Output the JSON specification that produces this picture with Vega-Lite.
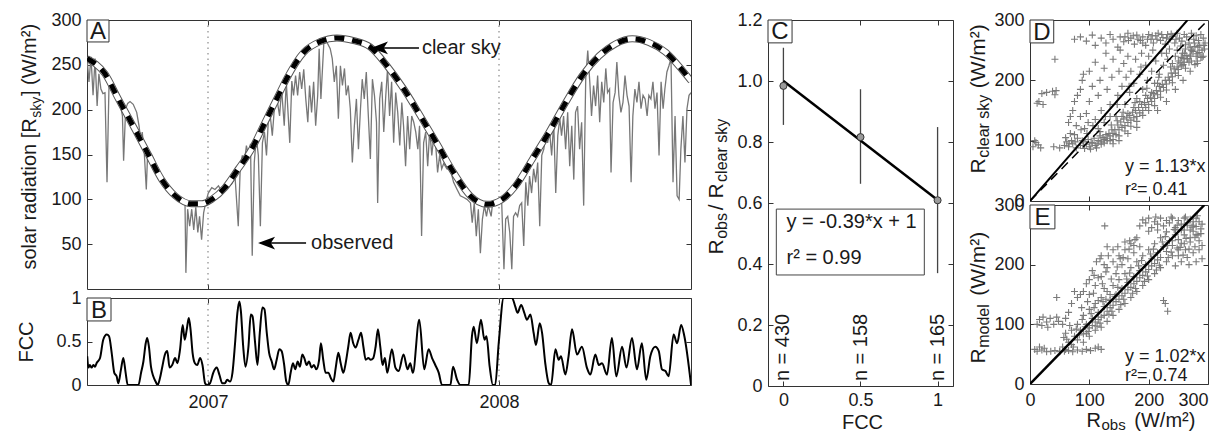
{
"$schema": "https://vega.github.io/schema/vega-lite/v6.json",
"autosize": {"type": "pad"},
"padding": {"left": 15, "top": 10, "right": 0, "bottom": 0},
"background": "white",
"config": {
  "font": "Liberation Sans",
  "view": {"stroke": "#333", "strokeWidth": 1},
  "axis": {"grid": false, "domain": false, "tickSize": -5, "tickColor": "#333", "tickWidth": 1, "labelFontSize": 18, "labelColor": "#1a1a1a", "labelFont": "Liberation Sans", "titleFont": "Liberation Sans", "titleFontSize": 21, "titleFontWeight": "normal", "titleColor": "#1a1a1a", "labelOverlap": false, "labelFlush": false, "labelBound": false},
  "text": {"font": "Liberation Sans", "color": "#1a1a1a"}
},
"datasets": {
"observed": [
{"t":2006.585,"v":255},{"t":2006.591,"v":231},{"t":2006.598,"v":259},{"t":2006.605,"v":216},{"t":2006.612,"v":257},{"t":2006.619,"v":204},{"t":2006.625,"v":240},{"t":2006.632,"v":223},{"t":2006.639,"v":218},{"t":2006.646,"v":219},{"t":2006.653,"v":119},{"t":2006.660,"v":230},{"t":2006.669,"v":223},{"t":2006.680,"v":217},{"t":2006.692,"v":210},{"t":2006.699,"v":205},{"t":2006.706,"v":193},{"t":2006.710,"v":143},{"t":2006.717,"v":201},{"t":2006.724,"v":207},{"t":2006.732,"v":209},{"t":2006.743,"v":206},{"t":2006.755,"v":197},{"t":2006.763,"v":182},{"t":2006.770,"v":163},{"t":2006.774,"v":175},{"t":2006.781,"v":152},{"t":2006.788,"v":111},{"t":2006.793,"v":156},{"t":2006.800,"v":145},{"t":2006.806,"v":140},{"t":2006.824,"v":130},{"t":2006.841,"v":120},{"t":2006.864,"v":110},{"t":2006.887,"v":102},{"t":2006.910,"v":97},{"t":2006.921,"v":96},{"t":2006.924,"v":18},{"t":2006.930,"v":89},{"t":2006.937,"v":70},{"t":2006.944,"v":89},{"t":2006.951,"v":66},{"t":2006.958,"v":91},{"t":2006.965,"v":63},{"t":2006.971,"v":81},{"t":2006.978,"v":55},{"t":2006.985,"v":85},{"t":2006.992,"v":96},{"t":2007.001,"v":107},{"t":2007.013,"v":113},{"t":2007.024,"v":111},{"t":2007.036,"v":115},{"t":2007.047,"v":109},{"t":2007.058,"v":112},{"t":2007.070,"v":115},{"t":2007.081,"v":117},{"t":2007.093,"v":125},{"t":2007.104,"v":70},{"t":2007.111,"v":137},{"t":2007.118,"v":149},{"t":2007.125,"v":141},{"t":2007.132,"v":160},{"t":2007.139,"v":149},{"t":2007.146,"v":162},{"t":2007.152,"v":37},{"t":2007.159,"v":141},{"t":2007.166,"v":169},{"t":2007.173,"v":149},{"t":2007.180,"v":70},{"t":2007.187,"v":163},{"t":2007.194,"v":175},{"t":2007.201,"v":149},{"t":2007.207,"v":186},{"t":2007.214,"v":193},{"t":2007.221,"v":171},{"t":2007.228,"v":201},{"t":2007.237,"v":212},{"t":2007.246,"v":193},{"t":2007.253,"v":223},{"t":2007.262,"v":182},{"t":2007.269,"v":231},
{"t":2007.281,"v":163},{"t":2007.288,"v":232},{"t":2007.294,"v":216},{"t":2007.301,"v":238},{"t":2007.308,"v":216},{"t":2007.315,"v":242},{"t":2007.322,"v":223},{"t":2007.329,"v":245},{"t":2007.336,"v":212},{"t":2007.343,"v":186},{"t":2007.349,"v":227},{"t":2007.356,"v":197},{"t":2007.363,"v":231},{"t":2007.370,"v":182},{"t":2007.377,"v":216},{"t":2007.382,"v":268},{"t":2007.388,"v":212},{"t":2007.398,"v":274},{"t":2007.409,"v":275},{"t":2007.420,"v":268},{"t":2007.427,"v":257},{"t":2007.434,"v":231},{"t":2007.441,"v":249},{"t":2007.448,"v":190},{"t":2007.455,"v":249},{"t":2007.462,"v":227},{"t":2007.469,"v":246},{"t":2007.475,"v":216},{"t":2007.482,"v":227},{"t":2007.489,"v":201},{"t":2007.496,"v":141},{"t":2007.503,"v":182},{"t":2007.510,"v":212},{"t":2007.517,"v":156},{"t":2007.524,"v":201},{"t":2007.530,"v":234},{"t":2007.537,"v":212},{"t":2007.544,"v":242},{"t":2007.551,"v":193},{"t":2007.558,"v":145},{"t":2007.565,"v":234},{"t":2007.572,"v":216},{"t":2007.579,"v":186},{"t":2007.583,"v":96},{"t":2007.590,"v":212},{"t":2007.597,"v":231},{"t":2007.604,"v":175},{"t":2007.611,"v":216},{"t":2007.617,"v":246},{"t":2007.624,"v":193},{"t":2007.631,"v":231},{"t":2007.638,"v":163},{"t":2007.645,"v":219},{"t":2007.652,"v":197},{"t":2007.659,"v":160},{"t":2007.666,"v":208},{"t":2007.672,"v":182},{"t":2007.679,"v":137},{"t":2007.686,"v":193},{"t":2007.693,"v":156},{"t":2007.700,"v":193},{"t":2007.707,"v":186},{"t":2007.714,"v":175},{"t":2007.721,"v":156},{"t":2007.727,"v":182},{"t":2007.734,"v":59},{"t":2007.741,"v":163},{"t":2007.748,"v":175},{"t":2007.755,"v":137},{"t":2007.762,"v":178},{"t":2007.769,"v":149},{"t":2007.776,"v":171},{"t":2007.782,"v":163},{"t":2007.789,"v":130},{"t":2007.796,"v":149},{"t":2007.803,"v":134},{"t":2007.810,"v":140},{"t":2007.821,"v":134},{"t":2007.833,"v":133},{"t":2007.844,"v":119},{"t":2007.856,"v":111},{"t":2007.867,"v":104},{"t":2007.879,"v":102},{"t":2007.890,"v":100},{"t":2007.902,"v":96},{"t":2007.908,"v":74},{"t":2007.915,"v":96},{"t":2007.922,"v":59},{"t":2007.929,"v":89},{"t":2007.936,"v":40},{"t":2007.943,"v":78},{"t":2007.950,"v":93},{"t":2007.957,"v":81},{"t":2007.963,"v":93},{"t":2007.973,"v":81},
{"t":2007.977,"v":93},{"t":2007.989,"v":96},{"t":2008.000,"v":97},{"t":2008.009,"v":99},{"t":2008.017,"v":22},{"t":2008.023,"v":78},{"t":2008.030,"v":81},{"t":2008.037,"v":63},{"t":2008.044,"v":22},{"t":2008.050,"v":81},{"t":2008.057,"v":85},{"t":2008.064,"v":81},{"t":2008.071,"v":93},{"t":2008.078,"v":96},{"t":2008.085,"v":48},{"t":2008.092,"v":119},{"t":2008.099,"v":93},{"t":2008.105,"v":126},{"t":2008.112,"v":107},{"t":2008.119,"v":134},{"t":2008.126,"v":119},{"t":2008.133,"v":141},{"t":2008.140,"v":70},{"t":2008.147,"v":149},{"t":2008.154,"v":156},{"t":2008.160,"v":171},{"t":2008.167,"v":163},{"t":2008.174,"v":175},{"t":2008.181,"v":149},{"t":2008.188,"v":186},{"t":2008.195,"v":107},{"t":2008.202,"v":171},{"t":2008.209,"v":190},{"t":2008.215,"v":171},{"t":2008.222,"v":193},{"t":2008.229,"v":156},{"t":2008.236,"v":197},{"t":2008.243,"v":137},{"t":2008.250,"v":182},{"t":2008.257,"v":122},{"t":2008.263,"v":197},{"t":2008.270,"v":204},{"t":2008.277,"v":156},{"t":2008.284,"v":186},{"t":2008.291,"v":93},{"t":2008.298,"v":234},{"t":2008.305,"v":266},{"t":2008.312,"v":231},{"t":2008.318,"v":193},{"t":2008.325,"v":227},{"t":2008.332,"v":204},{"t":2008.339,"v":238},{"t":2008.346,"v":186},{"t":2008.353,"v":231},{"t":2008.360,"v":208},{"t":2008.367,"v":246},{"t":2008.373,"v":219},{"t":2008.380,"v":223},{"t":2008.385,"v":130},{"t":2008.392,"v":208},{"t":2008.399,"v":219},{"t":2008.405,"v":253},{"t":2008.412,"v":216},{"t":2008.419,"v":197},{"t":2008.426,"v":208},{"t":2008.433,"v":238},{"t":2008.440,"v":216},{"t":2008.447,"v":204},{"t":2008.454,"v":119},{"t":2008.460,"v":193},{"t":2008.467,"v":223},{"t":2008.474,"v":208},{"t":2008.481,"v":231},{"t":2008.488,"v":201},{"t":2008.495,"v":216},{"t":2008.502,"v":212},{"t":2008.509,"v":193},{"t":2008.515,"v":216},{"t":2008.522,"v":212},{"t":2008.529,"v":231},{"t":2008.536,"v":201},{"t":2008.543,"v":219},{"t":2008.550,"v":149},{"t":2008.557,"v":231},{"t":2008.564,"v":201},{"t":2008.570,"v":223},{"t":2008.577,"v":242},{"t":2008.584,"v":249},{"t":2008.591,"v":257},{"t":2008.598,"v":119},{"t":2008.605,"v":193},{"t":2008.612,"v":104},{"t":2008.619,"v":100},{"t":2008.625,"v":156},{"t":2008.632,"v":193},{"t":2008.639,"v":141},{"t":2008.646,"v":201},{"t":2008.653,"v":216},{"t":2008.660,"v":219}
],
"clearsky": [
{"t":2006.584,"v":257},{"t":2006.646,"v":240},{"t":2006.692,"v":212},{"t":2006.749,"v":178},{"t":2006.795,"v":150},{"t":2006.841,"v":122},{"t":2006.887,"v":104},{"t":2006.944,"v":95},{"t":2006.978,"v":95},{"t":2007.013,"v":100},{"t":2007.058,"v":113},{"t":2007.104,"v":134},{"t":2007.150,"v":156},{"t":2007.196,"v":186},{"t":2007.242,"v":216},{"t":2007.271,"v":235},{"t":2007.329,"v":264},{"t":2007.386,"v":276},{"t":2007.443,"v":280},{"t":2007.501,"v":277},{"t":2007.557,"v":270},{"t":2007.615,"v":249},{"t":2007.673,"v":223},{"t":2007.730,"v":193},{"t":2007.787,"v":162},{"t":2007.844,"v":130},{"t":2007.901,"v":104},{"t":2007.959,"v":94.4},{"t":2008.011,"v":100},{"t":2008.057,"v":115},{"t":2008.115,"v":145},{"t":2008.172,"v":175},{"t":2008.229,"v":208},{"t":2008.286,"v":238},{"t":2008.344,"v":260},{"t":2008.401,"v":273.5},{"t":2008.458,"v":279},{"t":2008.515,"v":275},{"t":2008.573,"v":264},{"t":2008.630,"v":244},{"t":2008.660,"v":232}
],
"fcc": [
{"t":2006.585,"f":0.33},{"t":2006.589,"f":0.20},{"t":2006.594,"f":0.23},{"t":2006.600,"f":0.20},{"t":2006.606,"f":0.23},{"t":2006.612,"f":0.21},{"t":2006.617,"f":0.25},{"t":2006.629,"f":0.31},{"t":2006.640,"f":0.52},{"t":2006.652,"f":0.58},{"t":2006.660,"f":0.56},{"t":2006.669,"f":0.37},{"t":2006.678,"f":0.14},{"t":2006.686,"f":0.10},{"t":2006.692,"f":0.02},{"t":2006.701,"f":0.18},{"t":2006.709,"f":0.31},{"t":2006.717,"f":0.14},{"t":2006.724,"f":0},{"t":2006.761,"f":0},{"t":2006.770,"f":0.14},{"t":2006.778,"f":0.27},{"t":2006.786,"f":0.48},{"t":2006.791,"f":0.54},{"t":2006.797,"f":0.44},{"t":2006.804,"f":0.21},{"t":2006.812,"f":0.10},{"t":2006.820,"f":0.04},{"t":2006.827,"f":0},{"t":2006.835,"f":0.08},{"t":2006.843,"f":0.21},{"t":2006.852,"f":0.35},{"t":2006.860,"f":0.39},{"t":2006.868,"f":0.20},{"t":2006.877,"f":0.23},{"t":2006.887,"f":0.31},{"t":2006.895,"f":0.25},{"t":2006.904,"f":0.41},{"t":2006.913,"f":0.69},{"t":2006.920,"f":0.52},{"t":2006.927,"f":0.64},{"t":2006.934,"f":0.77},{"t":2006.940,"f":0.64},{"t":2006.947,"f":0.37},{"t":2006.955,"f":0.25},{"t":2006.963,"f":0.23},{"t":2006.973,"f":0.31},{"t":2006.981,"f":0.23},{"t":2006.990,"f":0.02},{"t":2006.997,"f":0},{"t":2007.007,"f":0.02},{"t":2007.018,"f":0.14},{"t":2007.030,"f":0.20},{"t":2007.039,"f":0.12},{"t":2007.049,"f":0.02},{"t":2007.058,"f":0.02},{"t":2007.066,"f":0.06},{"t":2007.076,"f":0.04},{"t":2007.084,"f":0.14},{"t":2007.093,"f":0.48},{"t":2007.101,"f":0.83},{"t":2007.108,"f":0.96},{"t":2007.113,"f":0.85},{"t":2007.121,"f":0.44},{"t":2007.129,"f":0.21},{"t":2007.139,"f":0.44},{"t":2007.147,"f":0.81},{"t":2007.153,"f":0.79},{"t":2007.162,"f":0.48},{"t":2007.170,"f":0.23},{"t":2007.178,"f":0.60},{"t":2007.187,"f":0.89},{"t":2007.194,"f":0.87},{"t":2007.202,"f":0.60},{"t":2007.210,"f":0.37},{"t":2007.219,"f":0.27},{"t":2007.227,"f":0.18},{"t":2007.236,"f":0.29},{"t":2007.245,"f":0.41},{"t":2007.253,"f":0.39},{"t":2007.261,"f":0.25},{"t":2007.269,"f":0.04},{"t":2007.276,"f":0},{"t":2007.284,"f":0.14},{"t":2007.292,"f":0.25},{"t":2007.300,"f":0.18},{"t":2007.308,"f":0.27},{"t":2007.316,"f":0.21},{"t":2007.324,"f":0.35},{"t":2007.331,"f":0.31},{"t":2007.339,"f":0.23},{"t":2007.347,"f":0.27},{"t":2007.356,"f":0.20},{"t":2007.364,"f":0.23},{"t":2007.372,"f":0.18},{"t":2007.382,"f":0.29},{"t":2007.388,"f":0.48},{"t":2007.396,"f":0.29},{"t":2007.404,"f":0.14},{"t":2007.414,"f":0.14},{"t":2007.422,"f":0.08},{"t":2007.431,"f":0.04},{"t":2007.439,"f":0.20},{"t":2007.448,"f":0.37},{"t":2007.456,"f":0.25},{"t":2007.465,"f":0.14},{"t":2007.473,"f":0.25},{"t":2007.482,"f":0.44},{"t":2007.490,"f":0.60},{"t":2007.499,"f":0.48},{"t":2007.507,"f":0.43},{"t":2007.517,"f":0.52},{"t":2007.526,"f":0.60},{"t":2007.534,"f":0.44},{"t":2007.542,"f":0.29},{"t":2007.551,"f":0.31},{"t":2007.559,"f":0.29},{"t":2007.568,"f":0.31},{"t":2007.576,"f":0.44},{"t":2007.584,"f":0.64},{"t":2007.592,"f":0.44},{"t":2007.600,"f":0.23},{"t":2007.608,"f":0.31},{"t":2007.616,"f":0.14},{"t":2007.632,"f":0.41},{"t":2007.644,"f":0.20},{"t":2007.655,"f":0.16},{"t":2007.672,"f":0.35},{"t":2007.686,"f":0.18},{"t":2007.695,"f":0.25},{"t":2007.704,"f":0.14},{"t":2007.726,"f":0.75},{"t":2007.743,"f":0.18},{"t":2007.758,"f":0.41},{"t":2007.770,"f":0.31},{"t":2007.781,"f":0.23},{"t":2007.793,"f":0.14},{"t":2007.804,"f":0},{"t":2007.833,"f":0},{"t":2007.842,"f":0.21},{"t":2007.856,"f":0.06},{"t":2007.867,"f":0},{"t":2007.896,"f":0},{"t":2007.907,"f":0.56},{"t":2007.913,"f":0.67},{"t":2007.924,"f":0.48},{"t":2007.938,"f":0.75},{"t":2007.950,"f":0.52},{"t":2007.957,"f":0.56},{"t":2007.968,"f":0.21},{"t":2007.979,"f":0},{"t":2007.987,"f":0},{"t":2007.999,"f":0.48},{"t":2008.016,"f":1.0},{"t":2008.045,"f":1.0},{"t":2008.056,"f":0.90},{"t":2008.064,"f":0.83},{"t":2008.076,"f":0.92},{"t":2008.087,"f":0.83},{"t":2008.096,"f":0.75},{"t":2008.108,"f":0.81},{"t":2008.119,"f":0.60},{"t":2008.127,"f":0.46},{"t":2008.140,"f":0.71},{"t":2008.148,"f":0.60},{"t":2008.159,"f":0.25},{"t":2008.171,"f":0.02},{"t":2008.179,"f":0},{"t":2008.194,"f":0.41},{"t":2008.205,"f":0.29},{"t":2008.213,"f":0.33},{"t":2008.228,"f":0.12},{"t":2008.239,"f":0.33},{"t":2008.251,"f":0.64},{"t":2008.268,"f":0.35},{"t":2008.285,"f":0.44},{"t":2008.302,"f":0.20},{"t":2008.314,"f":0.12},{"t":2008.331,"f":0.35},{"t":2008.343,"f":0.23},{"t":2008.354,"f":0.25},{"t":2008.371,"f":0.12},{"t":2008.388,"f":0.54},{"t":2008.403,"f":0.10},{"t":2008.423,"f":0.44},{"t":2008.438,"f":0.20},{"t":2008.457,"f":0.54},{"t":2008.474,"f":0.18},{"t":2008.491,"f":0.48},{"t":2008.506,"f":0.06},{"t":2008.520,"f":0.33},{"t":2008.537,"f":0.44},{"t":2008.549,"f":0.39},{"t":2008.560,"f":0.18},{"t":2008.572,"f":0.16},{"t":2008.583,"f":0.10},{"t":2008.600,"f":0.58},{"t":2008.612,"f":0.48},{"t":2008.626,"f":0.69},{"t":2008.637,"f":0.56},{"t":2008.660,"f":0}
],
"ratio": [
{"fcc":0,"ratio":0.984,"lo":0.856,"hi":1.109,"nlab":"n = 430"},
{"fcc":0.5,"ratio":0.816,"lo":0.663,"hi":0.973,"nlab":"n = 158"},
{"fcc":1,"ratio":0.609,"lo":0.37,"hi":0.849,"nlab":"n = 165"}
],
"scatterD": [
{"obs":75,"clear":268},{"obs":85,"clear":272},{"obs":95,"clear":265},{"obs":105,"clear":275},{"obs":110,"clear":258},{"obs":120,"clear":270},{"obs":128,"clear":262},{"obs":135,"clear":276},{"obs":140,"clear":268},{"obs":148,"clear":255},{"obs":152,"clear":272},{"obs":158,"clear":264},{"obs":165,"clear":278},{"obs":170,"clear":270},{"obs":176,"clear":260},{"obs":180,"clear":275},{"obs":186,"clear":266},{"obs":190,"clear":272},{"obs":195,"clear":258},{"obs":200,"clear":276},{"obs":204,"clear":268},{"obs":208,"clear":262},{"obs":212,"clear":274},{"obs":216,"clear":278},{"obs":220,"clear":266},{"obs":224,"clear":271},{"obs":228,"clear":260},{"obs":232,"clear":276},{"obs":236,"clear":268},{"obs":240,"clear":273},{"obs":244,"clear":262},{"obs":248,"clear":278},{"obs":252,"clear":270},{"obs":256,"clear":265},{"obs":260,"clear":276},{"obs":264,"clear":272},{"obs":268,"clear":262},{"obs":272,"clear":278},{"obs":276,"clear":268},{"obs":280,"clear":274},{"obs":284,"clear":266},{"obs":288,"clear":276},{"obs":292,"clear":270},{"obs":295,"clear":262},{"obs":286,"clear":258},{"obs":278,"clear":256},{"obs":270,"clear":255},{"obs":262,"clear":259},{"obs":254,"clear":257},{"obs":246,"clear":268},{"obs":238,"clear":277},{"obs":230,"clear":270},{"obs":222,"clear":276},{"obs":214,"clear":268},{"obs":206,"clear":274},{"obs":198,"clear":268},{"obs":190,"clear":262},{"obs":182,"clear":268},{"obs":174,"clear":274},{"obs":166,"clear":266},{"obs":160,"clear":272},
{"obs":290,"clear":250},{"obs":285,"clear":246},{"obs":280,"clear":240},{"obs":275,"clear":248},{"obs":270,"clear":242},{"obs":265,"clear":236},{"obs":260,"clear":245},{"obs":255,"clear":238},{"obs":250,"clear":232},{"obs":245,"clear":240},{"obs":240,"clear":228},{"obs":282,"clear":232},{"obs":292,"clear":240},{"obs":288,"clear":238},{"obs":272,"clear":250},{"obs":262,"clear":252},{"obs":278,"clear":226},{"obs":268,"clear":230},{"obs":258,"clear":226},{"obs":248,"clear":250},{"obs":294,"clear":252},{"obs":230,"clear":245},{"obs":235,"clear":252},
{"obs":120,"clear":98},{"obs":125,"clear":102},{"obs":130,"clear":100},{"obs":135,"clear":108},{"obs":140,"clear":112},{"obs":145,"clear":110},{"obs":150,"clear":118},{"obs":155,"clear":122},{"obs":160,"clear":125},{"obs":165,"clear":130},{"obs":170,"clear":134},{"obs":175,"clear":138},{"obs":180,"clear":140},{"obs":185,"clear":146},{"obs":190,"clear":150},{"obs":195,"clear":155},{"obs":200,"clear":160},{"obs":205,"clear":165},{"obs":210,"clear":170},{"obs":215,"clear":176},{"obs":220,"clear":182},{"obs":225,"clear":188},{"obs":230,"clear":194},{"obs":235,"clear":200},{"obs":240,"clear":206},{"obs":245,"clear":212},{"obs":250,"clear":218},{"obs":255,"clear":224},{"obs":260,"clear":230},{"obs":265,"clear":236},{"obs":270,"clear":240},{"obs":128,"clear":110},{"obs":138,"clear":118},{"obs":148,"clear":126},{"obs":158,"clear":136},{"obs":168,"clear":142},{"obs":178,"clear":150},{"obs":188,"clear":160},{"obs":198,"clear":170},{"obs":208,"clear":178},{"obs":218,"clear":190},{"obs":228,"clear":200},{"obs":238,"clear":212},{"obs":248,"clear":222},{"obs":258,"clear":236},{"obs":200,"clear":150},{"obs":210,"clear":158},{"obs":190,"clear":142},{"obs":180,"clear":132},{"obs":170,"clear":124},{"obs":160,"clear":116},{"obs":150,"clear":108},{"obs":140,"clear":102},{"obs":220,"clear":172},{"obs":230,"clear":184},{"obs":240,"clear":196},{"obs":250,"clear":208},{"obs":262,"clear":220},{"obs":272,"clear":232},{"obs":282,"clear":244},{"obs":205,"clear":180},{"obs":215,"clear":195},{"obs":195,"clear":175},{"obs":185,"clear":165},{"obs":175,"clear":155},{"obs":165,"clear":145},{"obs":155,"clear":140},{"obs":215,"clear":150},{"obs":230,"clear":165},{"obs":245,"clear":185},{"obs":258,"clear":200},{"obs":270,"clear":215},{"obs":282,"clear":228},{"obs":290,"clear":238},{"obs":180,"clear":122},{"obs":165,"clear":112},{"obs":150,"clear":100},{"obs":140,"clear":95},
{"obs":103,"clear":97},{"obs":113,"clear":95},{"obs":123,"clear":105},{"obs":133,"clear":112},{"obs":143,"clear":118},{"obs":153,"clear":131},{"obs":163,"clear":138},{"obs":173,"clear":147},{"obs":183,"clear":155},{"obs":193,"clear":163},{"obs":203,"clear":172},{"obs":213,"clear":183},{"obs":223,"clear":193},{"obs":233,"clear":205},{"obs":243,"clear":219},{"obs":253,"clear":229},{"obs":263,"clear":241},{"obs":273,"clear":249},{"obs":283,"clear":255},{"obs":293,"clear":258},{"obs":118,"clear":115},{"obs":137,"clear":126},{"obs":147,"clear":133},{"obs":157,"clear":147},{"obs":177,"clear":163},{"obs":197,"clear":187},{"obs":217,"clear":205},{"obs":237,"clear":222},{"obs":257,"clear":245},{"obs":277,"clear":262},{"obs":127,"clear":140},{"obs":147,"clear":160},{"obs":167,"clear":190},{"obs":187,"clear":222},{"obs":207,"clear":250},{"obs":96,"clear":112},{"obs":106,"clear":125},{"obs":86,"clear":118},{"obs":76,"clear":98},{"obs":66,"clear":95},
{"obs":40,"clear":90},{"obs":50,"clear":88},{"obs":58,"clear":92},{"obs":65,"clear":90},{"obs":72,"clear":95},{"obs":78,"clear":88},{"obs":85,"clear":92},{"obs":90,"clear":98},{"obs":95,"clear":94},{"obs":100,"clear":90},{"obs":105,"clear":96},{"obs":110,"clear":92},{"obs":115,"clear":100},{"obs":120,"clear":94},{"obs":125,"clear":96},{"obs":130,"clear":104},{"obs":98,"clear":102},{"obs":88,"clear":100},{"obs":80,"clear":104},{"obs":70,"clear":100},{"obs":62,"clear":98},{"obs":108,"clear":104},{"obs":118,"clear":108},{"obs":112,"clear":88},{"obs":102,"clear":86},{"obs":92,"clear":87},{"obs":135,"clear":100},{"obs":75,"clear":110},{"obs":68,"clear":112},{"obs":60,"clear":105},
{"obs":5,"clear":90},{"obs":10,"clear":97},{"obs":14,"clear":93},{"obs":8,"clear":100},{"obs":18,"clear":88},{"obs":15,"clear":165},{"obs":20,"clear":178},{"obs":28,"clear":180},{"obs":38,"clear":182},{"obs":42,"clear":176},{"obs":44,"clear":183},{"obs":12,"clear":162},{"obs":22,"clear":160},{"obs":42,"clear":235},
{"obs":65,"clear":130},{"obs":68,"clear":140},{"obs":72,"clear":150},{"obs":75,"clear":165},{"obs":80,"clear":175},{"obs":85,"clear":185},{"obs":88,"clear":200},{"obs":90,"clear":210},{"obs":95,"clear":145},{"obs":100,"clear":165},{"obs":100,"clear":215},{"obs":105,"clear":190},{"obs":110,"clear":135},{"obs":110,"clear":230},{"obs":115,"clear":175},{"obs":118,"clear":200},{"obs":120,"clear":150},{"obs":125,"clear":220},{"obs":128,"clear":245},{"obs":130,"clear":185},{"obs":135,"clear":160},{"obs":138,"clear":205},{"obs":140,"clear":235},{"obs":145,"clear":140},{"obs":148,"clear":175},{"obs":150,"clear":215},{"obs":152,"clear":250},{"obs":155,"clear":190},{"obs":158,"clear":228},{"obs":160,"clear":160},{"obs":162,"clear":205},{"obs":165,"clear":240},{"obs":168,"clear":180},{"obs":170,"clear":215},{"obs":175,"clear":195},{"obs":178,"clear":235},{"obs":180,"clear":170},{"obs":185,"clear":210},{"obs":188,"clear":245},{"obs":190,"clear":185},{"obs":195,"clear":225},{"obs":198,"clear":200},{"obs":200,"clear":240},{"obs":205,"clear":215},{"obs":210,"clear":195},{"obs":212,"clear":232},{"obs":218,"clear":210},{"obs":222,"clear":245},{"obs":225,"clear":225},{"obs":232,"clear":235},{"obs":115,"clear":120},{"obs":125,"clear":130},{"obs":135,"clear":140},{"obs":78,"clear":125},{"obs":85,"clear":140},{"obs":92,"clear":120},{"obs":98,"clear":130}
],
"scatterE": [
{"obs":50,"model":55},{"obs":55,"model":62},{"obs":60,"model":58},{"obs":65,"model":70},{"obs":70,"model":66},{"obs":75,"model":80},{"obs":80,"model":74},{"obs":85,"model":90},{"obs":90,"model":84},{"obs":95,"model":100},{"obs":100,"model":94},{"obs":105,"model":110},{"obs":110,"model":104},{"obs":115,"model":120},{"obs":120,"model":112},{"obs":125,"model":130},{"obs":130,"model":122},{"obs":135,"model":140},{"obs":140,"model":132},{"obs":145,"model":150},{"obs":150,"model":142},{"obs":155,"model":160},{"obs":160,"model":152},{"obs":165,"model":170},{"obs":170,"model":162},{"obs":175,"model":180},{"obs":180,"model":172},{"obs":185,"model":190},{"obs":190,"model":182},{"obs":195,"model":200},{"obs":200,"model":192},{"obs":205,"model":210},{"obs":210,"model":202},{"obs":215,"model":220},{"obs":220,"model":212},{"obs":225,"model":230},{"obs":230,"model":222},{"obs":235,"model":240},{"obs":240,"model":232},{"obs":245,"model":250},{"obs":250,"model":242},{"obs":255,"model":258},{"obs":260,"model":250},{"obs":265,"model":266},{"obs":270,"model":258},{"obs":275,"model":272},{"obs":280,"model":264},
{"obs":80,"model":100},{"obs":90,"model":115},{"obs":100,"model":125},{"obs":110,"model":135},{"obs":120,"model":145},{"obs":130,"model":155},{"obs":140,"model":165},{"obs":150,"model":175},{"obs":160,"model":185},{"obs":170,"model":195},{"obs":180,"model":205},{"obs":190,"model":215},{"obs":200,"model":225},{"obs":210,"model":235},{"obs":220,"model":245},
{"obs":90,"model":70},{"obs":100,"model":80},{"obs":110,"model":90},{"obs":120,"model":95},{"obs":130,"model":105},{"obs":140,"model":115},{"obs":150,"model":125},{"obs":160,"model":135},{"obs":170,"model":145},{"obs":180,"model":155},{"obs":190,"model":165},{"obs":200,"model":175},{"obs":210,"model":185},{"obs":220,"model":195},{"obs":230,"model":205},{"obs":240,"model":215},{"obs":250,"model":225},{"obs":260,"model":235},{"obs":270,"model":245},{"obs":280,"model":250},
{"obs":95,"model":85},{"obs":105,"model":98},{"obs":115,"model":108},{"obs":125,"model":115},{"obs":135,"model":128},{"obs":145,"model":138},{"obs":155,"model":148},{"obs":165,"model":158},{"obs":175,"model":168},{"obs":185,"model":178},{"obs":195,"model":188},{"obs":205,"model":198},{"obs":215,"model":208},
{"obs":100,"model":150},{"obs":110,"model":165},{"obs":120,"model":180},{"obs":130,"model":195},{"obs":140,"model":205},{"obs":150,"model":215},{"obs":160,"model":225},{"obs":170,"model":235},{"obs":180,"model":245},{"obs":115,"model":140},{"obs":125,"model":160},{"obs":135,"model":150},{"obs":145,"model":185},{"obs":155,"model":200},{"obs":165,"model":210},{"obs":175,"model":220},{"obs":185,"model":230},
{"obs":185,"model":265},{"obs":190,"model":275},{"obs":195,"model":270},{"obs":200,"model":278},{"obs":205,"model":262},{"obs":210,"model":272},{"obs":215,"model":268},{"obs":220,"model":278},{"obs":225,"model":265},{"obs":230,"model":274},{"obs":235,"model":270},{"obs":240,"model":278},{"obs":245,"model":262},{"obs":250,"model":274},{"obs":255,"model":268},{"obs":260,"model":278},{"obs":265,"model":270},{"obs":270,"model":276},{"obs":275,"model":266},{"obs":280,"model":278},{"obs":285,"model":272},{"obs":290,"model":268},{"obs":200,"model":256},{"obs":215,"model":258},{"obs":230,"model":255},{"obs":245,"model":258},{"obs":260,"model":258},{"obs":275,"model":256},{"obs":288,"model":260},{"obs":212,"model":280},{"obs":238,"model":280},{"obs":262,"model":280},{"obs":282,"model":282},
{"obs":232,"model":232},{"obs":240,"model":240},{"obs":248,"model":228},{"obs":255,"model":236},{"obs":262,"model":225},{"obs":270,"model":238},{"obs":278,"model":230},{"obs":285,"model":240},{"obs":290,"model":232},{"obs":275,"model":220},{"obs":265,"model":212},{"obs":255,"model":205},{"obs":245,"model":198},{"obs":280,"model":205},{"obs":290,"model":210},{"obs":285,"model":225},{"obs":250,"model":215},{"obs":268,"model":200},
{"obs":105,"model":190},{"obs":112,"model":205},{"obs":118,"model":210},{"obs":125,"model":200},{"obs":132,"model":215},{"obs":140,"model":225},{"obs":148,"model":230},{"obs":152,"model":210},{"obs":160,"model":238},{"obs":168,"model":240},{"obs":175,"model":232},{"obs":120,"model":215},{"obs":130,"model":230},{"obs":115,"model":178},{"obs":108,"model":182},{"obs":128,"model":188},{"obs":100,"model":175},{"obs":95,"model":168},{"obs":90,"model":155},{"obs":85,"model":150},{"obs":80,"model":145},{"obs":75,"model":155},{"obs":70,"model":135},{"obs":65,"model":120},{"obs":60,"model":110},{"obs":55,"model":100},
{"obs":62,"model":75},{"obs":73,"model":62},{"obs":83,"model":82},{"obs":93,"model":96},{"obs":103,"model":118},{"obs":113,"model":97},{"obs":123,"model":138},{"obs":133,"model":117},{"obs":143,"model":147},{"obs":153,"model":133},{"obs":163,"model":176},{"obs":173,"model":152},{"obs":183,"model":198},{"obs":193,"model":172},{"obs":203,"model":218},{"obs":213,"model":191},{"obs":223,"model":238},{"obs":233,"model":212},{"obs":243,"model":259},{"obs":253,"model":229},{"obs":263,"model":244},{"obs":273,"model":263},{"obs":283,"model":250},{"obs":78,"model":92},{"obs":88,"model":108},{"obs":98,"model":88},{"obs":108,"model":128},{"obs":118,"model":102},{"obs":128,"model":142},{"obs":138,"model":122},{"obs":148,"model":162},{"obs":158,"model":142},{"obs":168,"model":186},{"obs":178,"model":160},{"obs":188,"model":207},{"obs":198,"model":181},{"obs":208,"model":226},{"obs":218,"model":199},{"obs":228,"model":247},{"obs":238,"model":221},{"obs":248,"model":266},{"obs":258,"model":216},{"obs":268,"model":226},{"obs":278,"model":246},{"obs":288,"model":252},{"obs":137,"model":176},{"obs":147,"model":196},{"obs":157,"model":212},{"obs":167,"model":226},{"obs":177,"model":242},{"obs":122,"model":168},{"obs":107,"model":152},{"obs":97,"model":138},{"obs":87,"model":128},{"obs":67,"model":98},{"obs":57,"model":78},
{"obs":8,"model":58},{"obs":12,"model":55},{"obs":16,"model":62},{"obs":20,"model":57},{"obs":24,"model":60},{"obs":28,"model":54},{"obs":12,"model":100},{"obs":16,"model":108},{"obs":22,"model":112},{"obs":28,"model":104},{"obs":34,"model":110},{"obs":40,"model":100},{"obs":45,"model":112},{"obs":48,"model":105},{"obs":30,"model":95},{"obs":20,"model":98},
{"obs":35,"model":55},{"obs":42,"model":56},{"obs":50,"model":54},{"obs":58,"model":55},{"obs":65,"model":56},{"obs":72,"model":54},{"obs":80,"model":57},{"obs":88,"model":55},{"obs":95,"model":58},{"obs":102,"model":56},{"obs":110,"model":60},{"obs":115,"model":62},{"obs":120,"model":58},
{"obs":126,"model":265},{"obs":228,"model":135},{"obs":232,"model":122},{"obs":225,"model":140},{"obs":45,"model":145},{"obs":60,"model":85},{"obs":70,"model":90}
]
},
"spacing": 12,
"hconcat": [
{
 "vconcat": [
  {
   "width": 604, "height": 269,
   "resolve": {"axis": {"x": "independent", "y": "independent"}},
   "layer": [
    {"data": {"values": [{"year": 2007}, {"year": 2008}]},
     "mark": {"type": "rule", "stroke": "#8a8a8a", "strokeWidth": 1.2, "strokeDash": [1.5, 4]},
     "encoding": {"x": {"field": "year", "type": "quantitative", "axis": null}}},
    {"data": {"name": "observed"},
     "mark": {"type": "line", "stroke": "#777777", "strokeWidth": 1.3, "clip": true},
     "encoding": {
      "x": {"field": "t", "type": "quantitative", "scale": {"domain": [2006.5842, 2008.6598], "nice": false, "zero": false},
            "axis": {"orient": "bottom", "values": [2007, 2008], "labels": false, "title": null}},
      "y": {"field": "v", "type": "quantitative", "scale": {"domain": [0, 300], "nice": false, "zero": false},
            "axis": {"orient": "left", "values": [50, 100, 150, 200, 250, 300], "labelPadding": 11,
                     "title": "solar radiation [R\u00a0\u00a0\u00a0\u00a0]\u00a0(W/m\u00b2)", "titleFontSize": 20, "titleAngle": 270, "titleAlign": "left", "titleBaseline": "alphabetic", "titleX": -52, "titleY": 249}}}},
    {"data": {"name": "clearsky"},
     "mark": {"type": "line", "stroke": "#555555", "strokeWidth": 7, "interpolate": "monotone", "clip": true},
     "encoding": {"x": {"field": "t", "type": "quantitative", "axis": null}, "y": {"field": "v", "type": "quantitative", "axis": null}}},
    {"data": {"name": "clearsky"},
     "mark": {"type": "line", "stroke": "white", "strokeWidth": 5, "interpolate": "monotone", "clip": true},
     "encoding": {"x": {"field": "t", "type": "quantitative", "axis": null}, "y": {"field": "v", "type": "quantitative", "axis": null}}},
    {"data": {"name": "clearsky"},
     "mark": {"type": "line", "stroke": "black", "strokeWidth": 5, "strokeDash": [10, 8], "interpolate": "monotone", "clip": true},
     "encoding": {"x": {"field": "t", "type": "quantitative", "axis": null}, "y": {"field": "v", "type": "quantitative", "axis": null}}},
    {"data": {"values": [{}]},
     "mark": {"type": "rule", "stroke": "black", "strokeWidth": 1.5},
     "encoding": {"x": {"datum": 2007.57, "type": "quantitative", "axis": null}, "x2": {"datum": 2007.725}, "y": {"datum": 268.8, "type": "quantitative", "axis": null}}},
    {"data": {"values": [{}]},
     "mark": {"type": "point", "shape": "M0,0L2,-0.75L1.5,0L2,0.75Z", "filled": true, "fill": "black", "strokeWidth": 0, "size": 289, "opacity": 1},
     "encoding": {"x": {"datum": 2007.560, "type": "quantitative", "axis": null}, "y": {"datum": 268.8, "type": "quantitative", "axis": null}}},
    {"data": {"values": [{}]},
     "mark": {"type": "text", "text": "clear sky", "align": "left", "baseline": "middle", "fontSize": 20},
     "encoding": {"x": {"datum": 2007.735, "type": "quantitative", "axis": null}, "y": {"datum": 268.8, "type": "quantitative", "axis": null}}},
    {"data": {"values": [{}]},
     "mark": {"type": "rule", "stroke": "black", "strokeWidth": 1.5},
     "encoding": {"x": {"datum": 2007.18, "type": "quantitative", "axis": null}, "x2": {"datum": 2007.337}, "y": {"datum": 51.3, "type": "quantitative", "axis": null}}},
    {"data": {"values": [{}]},
     "mark": {"type": "point", "shape": "M0,0L2,-0.75L1.5,0L2,0.75Z", "filled": true, "fill": "black", "strokeWidth": 0, "size": 289, "opacity": 1},
     "encoding": {"x": {"datum": 2007.172, "type": "quantitative", "axis": null}, "y": {"datum": 51.3, "type": "quantitative", "axis": null}}},
    {"data": {"values": [{}]},
     "mark": {"type": "text", "text": "observed", "align": "left", "baseline": "middle", "fontSize": 20},
     "encoding": {"x": {"datum": 2007.354, "type": "quantitative", "axis": null}, "y": {"datum": 51.3, "type": "quantitative", "axis": null}}},
    {"data": {"values": [{}]},
     "mark": {"type": "rect", "fill": "white", "stroke": "#333", "strokeWidth": 1},
     "encoding": {"x": {"datum": 2006.5842, "type": "quantitative", "axis": null}, "x2": {"datum": 2006.6598}, "y": {"datum": 300, "type": "quantitative", "axis": null}, "y2": {"datum": 275.5}}},
    {"data": {"values": [{}]},
     "mark": {"type": "text", "text": "A", "align": "center", "baseline": "middle", "fontSize": 24},
     "encoding": {"x": {"datum": 2006.622, "type": "quantitative", "axis": null}, "y": {"datum": 286.5, "type": "quantitative", "axis": null}}},
    {"data": {"values": [{}]},
     "mark": {"type": "point", "opacity": 0},
     "encoding": {
      "x": {"datum": 2006.5842, "type": "quantitative", "axis": {"orient": "top", "values": [2007, 2008], "labels": false, "title": null}},
      "y": {"datum": 0, "type": "quantitative", "axis": {"orient": "right", "values": [50, 100, 150, 200, 250, 300], "labels": false,
            "title": "sky", "titleFontSize": 14, "titleAngle": 270, "titleAlign": "left", "titleBaseline": "alphabetic", "titleX": -651, "titleY": 97.3}}}}
   ]
  },
  {
   "width": 604, "height": 87,
   "resolve": {"axis": {"x": "independent", "y": "independent"}},
   "layer": [
    {"data": {"values": [{"year": 2007}, {"year": 2008}]},
     "mark": {"type": "rule", "stroke": "#8a8a8a", "strokeWidth": 1.2, "strokeDash": [1.5, 4]},
     "encoding": {"x": {"field": "year", "type": "quantitative", "axis": null}}},
    {"data": {"name": "fcc"},
     "mark": {"type": "line", "stroke": "black", "strokeWidth": 2, "interpolate": "monotone", "clip": true},
     "encoding": {
      "x": {"field": "t", "type": "quantitative", "scale": {"domain": [2006.5842, 2008.6598], "nice": false, "zero": false},
            "axis": {"orient": "bottom", "values": [2007, 2008], "format": "d", "labelPadding": 13, "title": null}},
      "y": {"field": "f", "type": "quantitative", "scale": {"domain": [0, 1], "nice": false, "zero": false},
            "axis": {"orient": "left", "values": [0, 0.5, 1], "format": "~g", "labelPadding": 11,
                     "title": "FCC", "titleFontSize": 20, "titleAngle": 270, "titleAlign": "center", "titleBaseline": "alphabetic", "titleX": -55, "titleY": 43.5}}}},
    {"data": {"values": [{}]},
     "mark": {"type": "rect", "fill": "white", "stroke": "#333", "strokeWidth": 1},
     "encoding": {"x": {"datum": 2006.5842, "type": "quantitative", "axis": null}, "x2": {"datum": 2006.6667}, "y": {"datum": 1, "type": "quantitative", "axis": null}, "y2": {"datum": 0.736}}},
    {"data": {"values": [{}]},
     "mark": {"type": "text", "text": "B", "align": "center", "baseline": "middle", "fontSize": 24},
     "encoding": {"x": {"datum": 2006.6255, "type": "quantitative", "axis": null}, "y": {"datum": 0.855, "type": "quantitative", "axis": null}}},
    {"data": {"values": [{}]},
     "mark": {"type": "point", "opacity": 0},
     "encoding": {
      "x": {"datum": 2006.5842, "type": "quantitative", "axis": {"orient": "top", "values": [2007, 2008], "labels": false, "title": null}},
      "y": {"datum": 0, "type": "quantitative", "axis": {"orient": "right", "values": [0, 0.5, 1], "labels": false, "title": null}}}}
   ]
  }
 ],
 "spacing": 9,
 "bounds": "flush"
},
{
 "width": 185, "height": 366,
 "resolve": {"axis": {"x": "independent", "y": "independent"}},
 "layer": [
  {"data": {"name": "ratio"},
   "mark": {"type": "rule", "stroke": "#444", "strokeWidth": 1.3},
   "encoding": {
    "x": {"field": "fcc", "type": "quantitative", "scale": {"domain": [-0.1, 1.1], "nice": false, "zero": false},
          "axis": {"orient": "bottom", "values": [0, 0.5, 1], "format": "~g", "labelPadding": 10.5,
                   "title": "FCC", "titleFontSize": 20, "titleAngle": 0, "titleAlign": "center", "titleBaseline": "alphabetic", "titleX": 94, "titleY": 42}},
    "y": {"field": "lo", "type": "quantitative", "scale": {"domain": [0, 1.2], "nice": false, "zero": false},
          "axis": {"orient": "left", "values": [0, 0.2, 0.4, 0.6, 0.8, 1, 1.2], "labelExpr": "datum.value == 0 ? '0' : format(datum.value, '.1f')", "labelPadding": 11,
                   "title": "R\u00a0\u00a0\u00a0\u00a0\u00a0/\u00a0R", "titleAngle": 270, "titleAlign": "left", "titleBaseline": "alphabetic", "titleX": -46, "titleY": 234}},
    "y2": {"field": "hi"}}},
  {"data": {"values": [{"fcc": 0, "fit": 1}, {"fcc": 1, "fit": 0.61}]},
   "mark": {"type": "line", "stroke": "black", "strokeWidth": 2.5},
   "encoding": {"x": {"field": "fcc", "type": "quantitative", "axis": null}, "y": {"field": "fit", "type": "quantitative", "axis": null}}},
  {"data": {"name": "ratio"},
   "mark": {"type": "point", "shape": "circle", "filled": true, "fill": "#9a9a9a", "stroke": "#333", "strokeWidth": 1, "size": 50, "opacity": 1},
   "encoding": {"x": {"field": "fcc", "type": "quantitative", "axis": null}, "y": {"field": "ratio", "type": "quantitative", "axis": null}}},
  {"data": {"values": [{}]},
   "mark": {"type": "rect", "fill": "white", "stroke": "#444", "strokeWidth": 1},
   "encoding": {"x": {"datum": -0.046, "type": "quantitative", "axis": null}, "x2": {"datum": 0.914}, "y": {"datum": 0.364, "type": "quantitative", "axis": null}, "y2": {"datum": 0.58}}},
  {"data": {"values": [{}]},
   "mark": {"type": "text", "text": "y = -0.39*x + 1", "align": "left", "baseline": "middle", "fontSize": 20},
   "encoding": {"x": {"datum": 0.02, "type": "quantitative", "axis": null}, "y": {"datum": 0.537, "type": "quantitative", "axis": null}}},
  {"data": {"values": [{}]},
   "mark": {"type": "text", "text": "r\u00b2 = 0.99", "align": "left", "baseline": "middle", "fontSize": 20},
   "encoding": {"x": {"datum": 0.02, "type": "quantitative", "axis": null}, "y": {"datum": 0.42, "type": "quantitative", "axis": null}}},
  {"data": {"name": "ratio"},
   "mark": {"type": "text", "angle": 270, "align": "left", "baseline": "middle", "fontSize": 20},
   "encoding": {"x": {"field": "fcc", "type": "quantitative", "axis": null}, "y": {"datum": 0.016, "type": "quantitative", "axis": null}, "text": {"field": "nlab"}}},
  {"data": {"values": [{}]},
   "mark": {"type": "rect", "fill": "white", "stroke": "#333", "strokeWidth": 1},
   "encoding": {"x": {"datum": -0.1, "type": "quantitative", "axis": null}, "x2": {"datum": 0.056}, "y": {"datum": 1.2, "type": "quantitative", "axis": null}, "y2": {"datum": 1.125}}},
  {"data": {"values": [{}]},
   "mark": {"type": "text", "text": "C", "align": "center", "baseline": "middle", "fontSize": 24},
   "encoding": {"x": {"datum": -0.022, "type": "quantitative", "axis": null}, "y": {"datum": 1.16, "type": "quantitative", "axis": null}}},
  {"data": {"values": [{}]},
   "mark": {"type": "point", "opacity": 0},
   "encoding": {
    "x": {"datum": -0.1, "type": "quantitative", "axis": {"orient": "top", "values": [0, 0.5, 1], "labels": false, "title": null}},
    "y": {"datum": 0, "type": "quantitative", "axis": {"orient": "right", "values": [0, 0.2, 0.4, 0.6, 0.8, 1, 1.2], "labels": false,
          "title": "obs\u00a0\u00a0\u00a0\u00a0\u00a0\u00a0\u00a0clear sky", "titleFontSize": 16, "titleAngle": 270, "titleAlign": "left", "titleBaseline": "alphabetic", "titleX": -227, "titleY": 218.3}}}}
 ]
},
{
 "vconcat": [
  {
   "width": 178, "height": 181,
   "resolve": {"axis": {"x": "independent", "y": "independent"}},
   "layer": [
    {"data": {"name": "scatterD"},
     "mark": {"type": "point", "shape": "M-1,0L1,0M0,-1L0,1", "filled": false, "stroke": "#7a7a7a", "strokeWidth": 1.1, "size": 49, "opacity": 1, "clip": true},
     "encoding": {
      "x": {"field": "obs", "type": "quantitative", "scale": {"domain": [0, 300], "nice": false, "zero": false},
            "axis": {"orient": "bottom", "values": [0, 100, 200, 300], "labels": false, "title": null}},
      "y": {"field": "clear", "type": "quantitative", "scale": {"domain": [0, 300], "nice": false, "zero": false},
            "axis": {"orient": "left", "values": [0, 100, 200, 300], "labelPadding": 11,
                     "title": "R\u00a0\u00a0\u00a0\u00a0\u00a0\u00a0\u00a0\u00a0\u00a0\u00a0\u00a0\u00a0(W/m\u00b2)", "titleAngle": 270, "titleAlign": "left", "titleBaseline": "alphabetic", "titleX": -46, "titleY": 153}}}},
    {"data": {"values": [{"obs": 0, "clear": 0}, {"obs": 300, "clear": 300}]},
     "mark": {"type": "line", "stroke": "black", "strokeWidth": 1.5, "strokeDash": [9, 6], "clip": true},
     "encoding": {"x": {"field": "obs", "type": "quantitative", "axis": null}, "y": {"field": "clear", "type": "quantitative", "axis": null}}},
    {"data": {"values": [{"obs": 0, "clear": 0}, {"obs": 265.5, "clear": 300}]},
     "mark": {"type": "line", "stroke": "black", "strokeWidth": 2, "clip": true},
     "encoding": {"x": {"field": "obs", "type": "quantitative", "axis": null}, "y": {"field": "clear", "type": "quantitative", "axis": null}}},
    {"data": {"values": [{}]},
     "mark": {"type": "text", "text": "y = 1.13*x", "align": "left", "baseline": "middle", "fontSize": 18},
     "encoding": {"x": {"datum": 160, "type": "quantitative", "axis": null}, "y": {"datum": 56, "type": "quantitative", "axis": null}}},
    {"data": {"values": [{}]},
     "mark": {"type": "text", "text": "r\u00b2= 0.41", "align": "left", "baseline": "middle", "fontSize": 18},
     "encoding": {"x": {"datum": 160, "type": "quantitative", "axis": null}, "y": {"datum": 18, "type": "quantitative", "axis": null}}},
    {"data": {"values": [{}]},
     "mark": {"type": "rect", "fill": "white", "stroke": "#333", "strokeWidth": 1},
     "encoding": {"x": {"datum": 0, "type": "quantitative", "axis": null}, "x2": {"datum": 40}, "y": {"datum": 300, "type": "quantitative", "axis": null}, "y2": {"datum": 262}}},
    {"data": {"values": [{}]},
     "mark": {"type": "text", "text": "D", "align": "center", "baseline": "middle", "fontSize": 24},
     "encoding": {"x": {"datum": 20, "type": "quantitative", "axis": null}, "y": {"datum": 279, "type": "quantitative", "axis": null}}},
    {"data": {"values": [{}]},
     "mark": {"type": "point", "opacity": 0},
     "encoding": {
      "x": {"datum": 0, "type": "quantitative", "axis": {"orient": "top", "values": [100, 200], "labels": false, "title": null}},
      "y": {"datum": 0, "type": "quantitative", "axis": {"orient": "right", "values": [100, 200], "labels": false,
            "title": "clear sky", "titleFontSize": 16, "titleAngle": 270, "titleAlign": "left", "titleBaseline": "alphabetic", "titleX": -220, "titleY": 137.3}}}}
   ]
  },
  {
   "width": 178, "height": 179,
   "resolve": {"axis": {"x": "independent", "y": "independent"}},
   "layer": [
    {"data": {"name": "scatterE"},
     "mark": {"type": "point", "shape": "M-1,0L1,0M0,-1L0,1", "filled": false, "stroke": "#7a7a7a", "strokeWidth": 1.1, "size": 49, "opacity": 1, "clip": true},
     "encoding": {
      "x": {"field": "obs", "type": "quantitative", "scale": {"domain": [0, 300], "nice": false, "zero": false},
            "axis": {"orient": "bottom", "values": [0, 100, 200, 300], "labelPadding": 12.5,
                     "labelAlign": {"condition": {"test": "datum.value == 300", "value": "right"}, "value": "center"},
                     "title": "R\u00a0\u00a0\u00a0\u00a0\u00a0\u00a0(W/m\u00b2)", "titleFontSize": 20, "titleAngle": 0, "titleAlign": "left", "titleBaseline": "alphabetic", "titleX": 56, "titleY": 42}},
      "y": {"field": "model", "type": "quantitative", "scale": {"domain": [0, 300], "nice": false, "zero": false},
            "axis": {"orient": "left", "values": [0, 100, 200, 300], "labelPadding": 11,
                     "title": "R\u00a0\u00a0\u00a0\u00a0\u00a0\u00a0\u00a0\u00a0\u00a0(W/m\u00b2)", "titleAngle": 270, "titleAlign": "left", "titleBaseline": "alphabetic", "titleX": -46, "titleY": 158}}}},
    {"data": {"values": [{"obs": 0, "model": 0}, {"obs": 294, "model": 300}]},
     "mark": {"type": "line", "stroke": "black", "strokeWidth": 2.5, "clip": true},
     "encoding": {"x": {"field": "obs", "type": "quantitative", "axis": null}, "y": {"field": "model", "type": "quantitative", "axis": null}}},
    {"data": {"values": [{}]},
     "mark": {"type": "text", "text": "y = 1.02*x", "align": "left", "baseline": "middle", "fontSize": 18},
     "encoding": {"x": {"datum": 160, "type": "quantitative", "axis": null}, "y": {"datum": 45, "type": "quantitative", "axis": null}}},
    {"data": {"values": [{}]},
     "mark": {"type": "text", "text": "r\u00b2= 0.74", "align": "left", "baseline": "middle", "fontSize": 18},
     "encoding": {"x": {"datum": 160, "type": "quantitative", "axis": null}, "y": {"datum": 13, "type": "quantitative", "axis": null}}},
    {"data": {"values": [{}]},
     "mark": {"type": "rect", "fill": "white", "stroke": "#333", "strokeWidth": 1},
     "encoding": {"x": {"datum": 0, "type": "quantitative", "axis": null}, "x2": {"datum": 42}, "y": {"datum": 300, "type": "quantitative", "axis": null}, "y2": {"datum": 260}}},
    {"data": {"values": [{}]},
     "mark": {"type": "text", "text": "E", "align": "center", "baseline": "middle", "fontSize": 24},
     "encoding": {"x": {"datum": 21, "type": "quantitative", "axis": null}, "y": {"datum": 278, "type": "quantitative", "axis": null}}},
    {"data": {"values": [{}]},
     "mark": {"type": "point", "opacity": 0},
     "encoding": {
      "x": {"datum": 0, "type": "quantitative", "axis": {"orient": "top", "values": [100, 200], "labels": false,
            "title": "obs", "titleFontSize": 15, "titleAngle": 0, "titleAlign": "left", "titleBaseline": "alphabetic", "titleX": 71, "titleY": 224}},
      "y": {"datum": 0, "type": "quantitative", "axis": {"orient": "right", "values": [100, 200], "labels": false,
            "title": "model", "titleFontSize": 16, "titleAngle": 270, "titleAlign": "left", "titleBaseline": "alphabetic", "titleX": -220, "titleY": 142.3}}}}
   ]
  }
 ],
 "spacing": 4,
 "bounds": "flush"
}
]
}
